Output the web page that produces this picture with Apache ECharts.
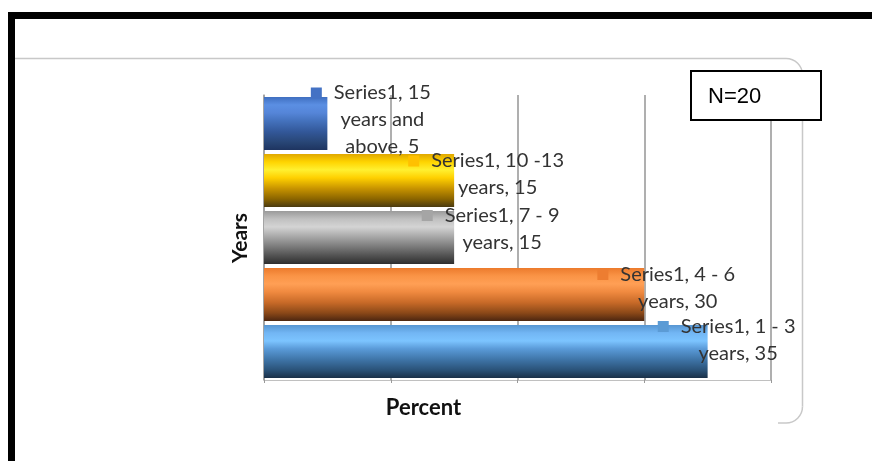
<!DOCTYPE html>
<html><head><meta charset="utf-8">
<script src="https://cdn.jsdelivr.net/npm/echarts@6/dist/echarts.min.js"></script>
<style>html,body{margin:0;padding:0;background:#fff}#c{width:872px;height:461px}</style>
</head><body><div id="c"></div>
<script>
// ---- data ----
const seriesName = 'Series1';
const categories = ['1 - 3 years', '4 - 6 years', '7 - 9 years', '10 -13 years', '15 years and above'];
const values = [35, 30, 15, 15, 5];
const xTicks = [0, 10, 20, 30, 40];
const xAxisTitle = 'Percent';
const yAxisTitle = 'Years';
const noteText = 'N=20';

// ---- styles ----
const FONT = 'Lato';
const markerColors = ['#5b9bd5', '#ed7d31', '#a5a5a5', '#ffc000', '#4472c4'];
const gradientStops = [
  ['#5796d2', '#72b6f4', '#7cc4ff', '#5a9ad8', '#3f75a8', '#2a5278', '#1a3048'],
  ['#ec7a2c', '#fa9446', '#ff9f55', '#f08a40', '#c86a28', '#8a4818', '#4c2610'],
  ['#9a9a9a', '#c0c0c0', '#d4d4d4', '#b0b0b0', '#808080', '#505050', '#2e2e2e'],
  ['#e0a800', '#ffd400', '#fff030', '#ffd000', '#c89400', '#8a6400', '#4a3a10'],
  ['#3f6fc0', '#5b8fe3', '#5585d8', '#4472bd', '#33589a', '#284676', '#1e3460']
];
const stopPos = [0, 0.15, 0.3, 0.45, 0.65, 0.85, 1];
const labelWrap = [16, 16, 16, 16, 12];
const labelOffsets = [[30.5, -11.5], [33.5, -6.5], [48, -8.5], [43.5, -6], [55, -3.5]];

function wrap(text, maxChars) {
  const words = text.split(' ');
  const lines = []; let cur = '';
  words.forEach(w => {
    const t = cur ? cur + ' ' + w : w;
    if (t.length > maxChars && cur) { lines.push(cur); cur = w; } else cur = t;
  });
  if (cur) lines.push(cur);
  return lines;
}

const barData = values.map((v, i) => {
  const lines = wrap(seriesName + ', ' + categories[i] + ', ' + v, labelWrap[i]);
  const text = lines.map((l, k) => k === 0 ? '{m|}{g|}{t|' + l + '}{p|}' : '{t|' + l + '}').join('\n');
  return {
    value: v,
    itemStyle: {
      color: {
        type: 'linear', x: 0, y: 0, x2: 0, y2: 1,
        colorStops: gradientStops[i].map((c, k) => ({ offset: stopPos[k], color: c }))
      }
    },
    label: {
      show: true,
      position: 'right',
      distance: 0,
      align: 'center',
      verticalAlign: 'middle',
      offset: labelOffsets[i],
      formatter: () => text,
      rich: {
        t: { fontFamily: FONT, fontSize: 20, color: '#333', lineHeight: 27 },
        m: { width: 11, height: 11, backgroundColor: markerColors[i] },
        g: { width: 12 },
        p: { width: 23 }
      }
    }
  };
});

const border = { fill: null, stroke: '#c8c8c8', lineWidth: 1.5 };

const chart = echarts.init(document.getElementById('c'));
chart.setOption({
  animation: false,
  backgroundColor: '#fff',
  grid: { left: 264, right: 101, top: 95, bottom: 81, containLabel: false },
  xAxis: {
    type: 'value', min: xTicks[0], max: xTicks[xTicks.length - 1], interval: xTicks[1] - xTicks[0],
    axisLabel: { show: false },
    axisLine: { show: true, lineStyle: { color: '#c0c0c0', width: 1 } },
    axisTick: { show: true, length: 3, lineStyle: { color: '#999' } },
    splitLine: { show: true, lineStyle: { color: '#959595', width: 1.5 } }
  },
  yAxis: {
    type: 'category', data: categories,
    axisLabel: { show: false },
    axisTick: { show: false },
    axisLine: { show: true, lineStyle: { color: '#a0a0a0', width: 1.5 } }
  },
  series: [{
    type: 'bar', name: seriesName, data: barData, barCategoryGap: '7%', z: 3
  }],
  graphic: [
    { type: 'rect', shape: { x: 8, y: 12, width: 880, height: 7 }, style: { fill: '#000' }, z: 10 },
    { type: 'rect', shape: { x: 8, y: 12, width: 7, height: 460 }, style: { fill: '#000' }, z: 10 },
    { type: 'line', shape: { x1: 15, y1: 58.5, x2: 786, y2: 58.5 }, style: border, z: 1 },
    { type: 'arc', shape: { cx: 786, cy: 75, r: 16.5, startAngle: -Math.PI / 2, endAngle: 0, clockwise: true }, style: border, z: 1 },
    { type: 'line', shape: { x1: 802.5, y1: 75, x2: 802.5, y2: 406.5 }, style: border, z: 1 },
    { type: 'arc', shape: { cx: 786, cy: 406.5, r: 16.5, startAngle: 0, endAngle: Math.PI / 2, clockwise: true }, style: border, z: 1 },
    { type: 'line', shape: { x1: 786, y1: 423, x2: 778, y2: 423 }, style: border, z: 1 },
    { type: 'rect', shape: { x: 691, y: 71, width: 130, height: 49 }, style: { fill: '#fff', stroke: '#000', lineWidth: 2 }, z: 10 },
    { type: 'text', x: 708, y: 97, style: { text: noteText, fontFamily: 'Liberation Sans', fontSize: 22, fill: '#000', verticalAlign: 'middle' }, z: 11 },
    { type: 'text', x: 423.5, y: 408, style: { text: xAxisTitle, fontFamily: FONT, fontWeight: 'bold', fontSize: 22, fill: '#111', align: 'center', verticalAlign: 'middle' }, z: 11 },
    { type: 'text', x: 240, y: 238, rotation: Math.PI / 2, style: { text: yAxisTitle, fontFamily: FONT, fontWeight: 'bold', fontSize: 21, fill: '#111', align: 'center', verticalAlign: 'middle' }, z: 11 }
  ]
});
</script></body></html>
